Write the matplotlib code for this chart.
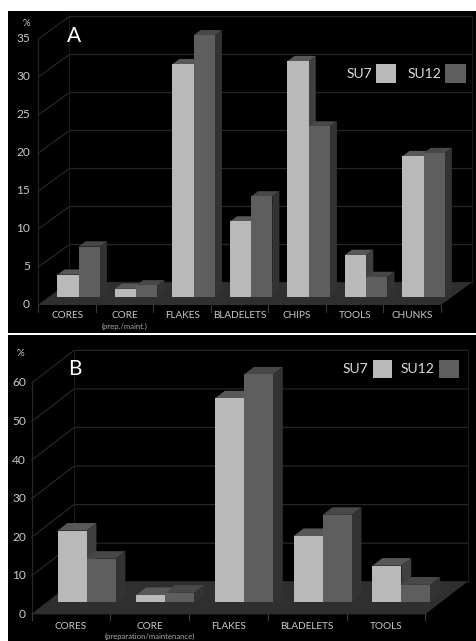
import matplotlib
matplotlib.use("Agg")
import matplotlib.pyplot as plt
from matplotlib.patches import Polygon, Rectangle

W, H = 477, 641
FONT = "Lato"

# ---- data ----
cats_a = ["CORES", "CORE", "FLAKES", "BLADELETS", "CHIPS", "TOOLS", "CHUNKS"]
sub_a = ["", "(prep./maint.)", "", "", "", "", ""]
su7_a = [2.9, 1.05, 30.6, 9.9, 31.0, 5.5, 18.5]
su12_a = [6.6, 1.5, 34.4, 13.2, 22.4, 2.6, 18.9]
ticks_a = [0, 5, 10, 15, 20, 25, 30, 35]

cats_b = ["CORES", "CORE", "FLAKES", "BLADELETS", "TOOLS"]
sub_b = ["", "(preparation/maintenance)", "", "", ""]
su7_b = [18.6, 1.9, 52.9, 17.2, 9.5]
su12_b = [11.3, 2.5, 59.1, 22.7, 4.6]
ticks_b = [0, 10, 20, 30, 40, 50, 60]

# ---- colours ----
LIGHT, LIGHT_TOP = "#b9b9b9", "#585858"
DARK, DARK_SIDE, DARK_TOP = "#5e5e5e", "#333333", "#484848"
FLOOR, GRID, TXT = "#2f2f2f", "#262626", "#c9c9c9"

fig = plt.figure(figsize=(W / 100, H / 100), dpi=100, facecolor="white")


def panel(box, x0, cw, y0, unit, dx_px, dy_px, cats, subs, s7, s12, ticks, letter, opts):
    left, top, right, bottom = box
    ax = fig.add_axes([left / W, 1 - bottom / H, (right - left) / W, (bottom - top) / H])
    ax.set_facecolor("black")
    ax.set_xlim((left - x0) / cw, (right - x0) / cw)
    ax.set_ylim((y0 - bottom) / unit, (y0 - top) / unit)
    ax.axis("off")
    ax.add_patch(Rectangle((0, 0), 1, 1, transform=ax.transAxes, fc="black", ec="none", zorder=0))
    n = len(cats)
    dx, dy = dx_px / cw, dy_px / unit

    def P(x, v, z):
        return (x + z * dx, v + z * dy)

    tmax = ticks[-1]
    # walls and gridlines
    for t in ticks:
        ax.plot(*zip(P(0, t, 0), P(0, t, 1), P(n, t, 1)), color=GRID, lw=0.9, zorder=1)
    ax.plot(*zip(P(0, 0, 0), P(0, tmax, 0)), color=GRID, lw=0.8, zorder=1)
    ax.plot(*zip(P(0, 0, 1), P(0, tmax, 1)), color="#1a1a1a", lw=0.8, zorder=1)
    ax.plot(*zip(P(n, 0, 1), P(n, tmax, 1)), color="#1a1a1a", lw=0.8, zorder=1)
    # floor
    ax.add_patch(Polygon([P(0, 0, 0), P(n, 0, 0), P(n, 0, 1), P(0, 0, 1)], fc=FLOOR, ec="none", zorder=2))

    # bars
    z0, z1, bw = 0.368, 0.60, 0.368
    for i in range(n):
        xc = i + 0.5
        for xa, v, front, side, topc in (
            (xc - bw, s7[i], LIGHT, LIGHT_TOP, LIGHT_TOP),
            (xc, s12[i], DARK, DARK_SIDE, DARK_TOP),
        ):
            xb = xa + bw
            ax.add_patch(Polygon([P(xb, 0, z0), P(xb, 0, z1), P(xb, v, z1), P(xb, v, z0)],
                                 fc=DARK_SIDE if front == DARK else "#404040", ec="none", zorder=3))
            ax.add_patch(Polygon([P(xa, v, z0), P(xb, v, z0), P(xb, v, z1), P(xa, v, z1)],
                                 fc=topc, ec="none", zorder=3))
            ax.add_patch(Polygon([P(xa, 0, z0), P(xb, 0, z0), P(xb, v, z0), P(xa, v, z0)],
                                 fc=front, ec="none", zorder=3))

    # category ticks and labels
    tick_len = opts["tick_len"] / unit
    for i in range(n + 1):
        ax.plot([i, i], [0, -tick_len], color="#3a3a3a", lw=0.8, zorder=2)
    for i, (c, s) in enumerate(zip(cats, subs)):
        ax.text(i + 0.5, -opts["lab_off"] / unit, c, color=TXT, fontsize=7.2, family=FONT,
                ha="center", va="center", zorder=5)
        if s:
            ax.text(i + 0.5, -opts["sub_off"] / unit, s, color="#a8a8a8", fontsize=5.6, family=FONT,
                    ha="center", va="center", zorder=5)
    # value tick labels
    lab_x = (opts["ylab_x"] - x0) / cw
    for t in ticks:
        ax.text(lab_x, t, str(t), color=TXT, fontsize=8.6, family=FONT, ha="right", va="center", zorder=5)

    def px(x, y):
        return x / W, 1 - y / H

    fig.text(*px(*opts["pct"]), "%", color=TXT, fontsize=7, family=FONT, ha="center", va="center", zorder=6)
    fig.text(*px(*opts["letter"]), letter, color="white", fontsize=15, family=FONT, ha="center", va="center", zorder=6)
    # legend
    for (sx0, sx1), colr, label, tx in zip(opts["sw_x"], (LIGHT, DARK), ("SU7", "SU12"), opts["leg_x"]):
        sy0, sy1 = opts["sw_y"]
        fig.add_artist(Rectangle((sx0 / W, 1 - sy1 / H), (sx1 - sx0) / W, (sy1 - sy0) / H,
                                 transform=fig.transFigure, fc=colr, ec="none", zorder=6))
        fig.text(*px(tx, (sy0 + sy1) / 2), label, color="#dddddd", fontsize=opts["leg_fs"], family=FONT,
                 ha="right", va="center", zorder=6)


panel((8, 11, 477, 332.7), 38.4, 57.5, 305, 7.6, 31, 22.5, cats_a, sub_a, su7_a, su12_a, ticks_a, "A",
      dict(tick_len=7, lab_off=10.5, sub_off=21, ylab_x=30, pct=(26.7, 24), letter=(74, 36), leg_fs=10,
           sw_x=((376.3, 396), (445.3, 465.7)), sw_y=(64.3, 83.3), leg_x=(372, 441)))
panel((8, 335.3, 477, 641), 31.7, 78.7, 614.3, 3.855, 42.3, 32.6, cats_b, sub_b, su7_b, su12_b, ticks_b, "B",
      dict(tick_len=6, lab_off=12, sub_off=22, ylab_x=26, pct=(20, 353.3), letter=(74.7, 369.3), leg_fs=10,
           sw_x=((372.7, 392), (438.7, 458.7)), sw_y=(360, 378.3), leg_x=(368, 434)))

fig.savefig("out.png", dpi=100, facecolor="white")
